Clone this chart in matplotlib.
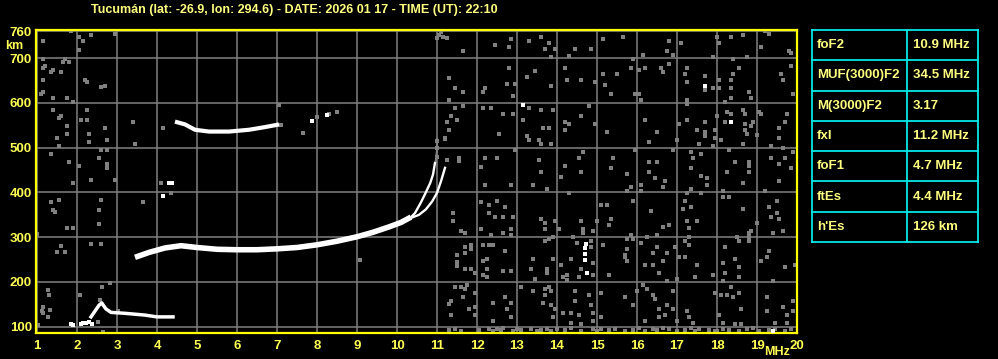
import matplotlib
matplotlib.use("Agg")
import matplotlib.pyplot as plt

# 电离图数据 (频率 MHz, 虚高 km)
f2_freq = [3.45, 3.8, 4.2, 4.6, 5.0, 5.5, 6.0, 6.5, 7.0, 7.5, 8.0, 8.5, 9.0, 9.4, 9.8, 10.1, 10.35]
f2_height = [255, 266, 276, 281, 277, 273, 272, 272, 274, 277, 283, 291, 301, 311, 323, 333, 345]

o_cusp_freq = [10.3, 10.45, 10.6, 10.72, 10.83, 10.9, 10.95]
o_cusp_height = [340, 354, 378, 400, 421, 440, 466]

o_top_freq = [10.97, 11.0, 11.0]
o_top_height = [470, 495, 520]

x_freq = [10.35, 10.55, 10.72, 10.88, 11.0, 11.1, 11.2]
x_height = [343, 350, 362, 380, 399, 425, 455]

upper_freq = [4.5, 4.7, 4.95, 5.3, 5.8, 6.3, 6.7, 7.0]
upper_height = [557, 552, 540, 536, 536, 540, 546, 551]

e_freq = [2.35, 2.45, 2.55, 2.62, 2.72, 2.85, 3.2, 3.7, 4.0, 4.4]
e_height = [122, 135, 148, 153, 140, 132, 130, 126, 122, 122]

white_freq = [1.85, 1.9, 2.1, 2.15, 2.22, 2.3, 2.38, 4.15, 4.3, 4.38, 7.88, 8.25, 13.15,
              17.7, 18.35, 14.7, 14.7, 14.7, 14.72, 14.75, 19.4]
white_height = [106, 104, 106, 108, 109, 110, 107, 392, 420, 420, 560, 573, 595,
                637, 557, 250, 262, 275, 284, 220, 90]

noise_freq = [
    1.85, 2.05, 2.15, 2.35, 2.95, 1.15, 2.05, 1.15, 1.7, 1.65, 1.8, 1.2, 1.15, 1.4, 1.35, 1.6,
    1.15, 2.2, 2.25, 2.6, 2.7, 1.15, 1.1, 1.4, 1.75, 1.9, 1.4, 1.6, 1.55, 2.25, 2.1, 2.25,
    1.75, 2.7, 3.4, 4.15, 1.75, 2.3, 1.5, 2.3, 2.75, 1.55, 3.45, 1.35, 1.8, 2.6, 2.75, 2.55,
    2.05, 2.75, 2.75, 2.35, 2.95, 1.9, 1.35, 1.55, 1.4, 1.45, 2.6, 2.55, 3.65, 2.55, 1.75, 1.9,
    1.0, 1.6, 1.5, 1.7, 2.35, 2.6, 1.28, 1.3, 1.15, 1.15, 1.12, 1.33, 1.28, 1.03, 2.08, 2.62,
    2.83, 2.65, 2.53, 3.03, 2.58, 7.05, 7.1, 7.65, 8.0, 8.3, 8.5, 9.08, 4.35, 4.1,
    11.0, 11.05, 11.1, 11.15, 11.0, 11.0, 11.0, 11.25, 11.3, 11.2,
    11.25, 11.65, 12.45, 12.85, 12.8, 13.3, 13.6, 13.8, 13.7, 13.95, 13.85, 14.3, 14.45, 14.85,
    15.15, 11.3, 11.45, 11.65, 11.3, 12.2, 12.15, 12.8, 12.75, 12.95, 12.9, 13.25, 13.45, 13.85,
    14.2, 14.25, 14.6, 14.95, 15.2, 15.15, 15.35, 11.45, 11.65, 12.15, 12.35, 11.35, 11.5, 11.25,
    12.65, 12.9, 13.3, 13.6, 13.9, 13.15, 13.65, 13.8, 14.2, 14.3, 14.6, 14.8, 14.95, 15.25,
    14.2, 12.55, 11.2, 13.25, 13.3, 13.55, 13.6, 13.85, 12.95, 11.55, 11.55, 12.2, 12.5, 11.25,
    12.1, 13.55, 13.6, 14.55, 14.65, 14.2, 14.6, 15.35, 15.4, 14.1,
    15.65, 16.8, 17.1, 16.75, 16.9, 16.15, 18.0, 18.05, 18.35, 18.65, 19.2, 19.3, 19.1, 19.8,
    19.85, 17.9, 18.4, 18.75, 15.9, 15.85, 16.05, 16.2, 16.6, 16.65, 16.8, 17.25, 17.2, 17.25,
    17.7, 17.7, 17.9, 18.05, 18.05, 18.35, 18.4, 18.55, 18.35, 18.8, 18.85, 18.35, 19.6, 19.65,
    19.85, 19.9, 15.5, 15.95, 16.05, 16.1, 17.25, 17.25, 18.2, 16.2, 17.25, 17.05, 17.7, 18.0,
    18.25, 18.35, 18.2, 18.7, 18.7, 18.85, 18.9, 18.7, 18.65, 19.05, 19.1, 19.75, 19.7, 19.55,
    19.0, 18.75, 17.95, 17.95, 17.5, 17.7, 17.7, 18.1, 16.5, 16.3, 17.0, 17.55, 17.9, 18.65,
    19.55, 19.35, 19.65, 15.95, 16.9, 17.35, 17.6, 17.4, 18.3, 19.9, 19.7, 19.35, 18.8, 18.45,
    18.8, 19.55, 16.3, 16.5, 16.3, 15.75, 16.45, 17.35, 17.6, 17.75, 18.25, 18.8, 19.85,
    12.2, 12.85, 13.4, 13.75, 14.3, 12.1, 12.5, 12.3, 12.7, 11.4, 11.4, 12.3, 12.45, 12.65,
    12.9, 12.1, 12.65, 12.85, 12.85, 11.6, 11.7, 12.35, 13.6, 13.7, 13.7, 13.95, 14.05, 13.8,
    13.7, 13.9, 14.6, 14.65, 14.65, 14.9, 15.0, 15.1, 15.25, 15.35, 15.3, 14.4, 14.5, 14.85,
    15.15, 11.7, 11.85, 11.7, 11.5, 11.85, 12.15, 12.3, 12.4, 12.7, 12.25, 12.15, 12.25, 11.7,
    11.85, 11.5, 11.5, 11.95, 12.15, 12.25, 12.65, 12.85, 13.4, 13.35, 13.75, 13.75, 13.45,
    13.9, 14.1, 14.15, 14.25, 14.25, 14.35, 14.55, 14.9, 14.9, 15.3, 14.85, 14.6,
    11.45, 11.6, 11.75, 11.7, 11.95, 11.35, 11.3, 11.65, 11.8, 11.95, 11.95, 11.35, 12.4, 12.7,
    12.85, 12.75, 12.85, 12.4, 13.1, 13.4, 13.7, 13.8, 13.85, 13.7, 13.65, 13.85, 13.95, 13.9,
    14.15, 14.35, 14.35, 14.55, 14.45, 14.45, 14.8, 14.85, 14.9, 14.9, 15.1, 15.1, 14.6,
    15.85, 16.1, 16.65, 16.7, 15.75, 16.1, 17.35, 17.25, 17.6, 17.75, 18.15, 18.15, 18.3, 18.65,
    19.2, 19.55, 15.9, 16.35, 17.2, 17.15, 17.35, 17.25, 17.5, 17.3, 16.65, 16.8, 18.65, 19.3,
    19.5, 19.5, 19.35, 19.55, 19.0, 18.85, 18.8, 19.4, 19.65, 15.85, 16.25, 16.5, 15.75, 15.9,
    16.1, 17.3, 17.2, 17.3, 18.5, 18.55, 18.8, 18.8, 18.2, 15.75, 15.7, 15.7, 15.75, 16.4, 16.5,
    16.75, 16.95, 17.05, 16.65, 16.4, 16.2, 16.55, 16.75, 17.0, 17.2, 17.5, 17.45, 17.9, 18.15,
    18.2, 18.15, 18.45, 18.55, 18.55, 19.1, 19.25, 19.3, 19.7, 19.95, 19.4, 16.15, 16.25, 16.4,
    15.7, 15.99, 15.9, 16.45, 16.75, 16.9, 16.55, 16.55, 16.7, 16.9, 16.2, 17.0, 17.25, 17.3,
    17.4, 17.95, 18.1, 18.25, 18.35, 18.4, 18.55, 18.6, 18.05, 18.15, 18.45, 18.6, 19.25, 19.25,
    19.65, 19.75, 19.9, 19.9, 19.45, 19.75,
]
noise_height = [
    760, 747, 738, 751, 755, 738, 718, 698, 698, 691, 691, 682, 677, 673, 669, 669,
    651, 651, 646, 635, 637, 624, 620, 611, 611, 602, 584, 570, 566, 584, 562, 562,
    548, 544, 557, 544, 530, 530, 521, 512, 517, 504, 508, 486, 468, 495, 495, 477,
    459, 464, 455, 428, 428, 421, 379, 383, 361, 357, 383, 361, 379, 330, 321, 321,
    307, 281, 267, 267, 285, 285, 183, 171, 131, 145, 136, 138, 122, 104, 171, 189,
    198, 89, 111, 136, 160, 595, 550, 533, 568, 575, 579, 249, 399, 420,
    745, 752, 758, 748, 480, 500, 515, 557, 540, 520,
    744, 715, 729, 742, 724, 738, 747, 733, 720, 720, 702, 704, 720, 720,
    742, 655, 633, 624, 606, 633, 624, 677, 642, 642, 615, 658, 671, 637,
    677, 651, 651, 646, 640, 664, 620, 588, 593, 588, 588, 570, 562, 557,
    575, 575, 588, 584, 584, 562, 544, 544, 557, 553, 570, 593, 553, 535,
    539, 530, 521, 526, 517, 517, 508, 508, 495, 477, 470, 477, 477, 472,
    457, 472, 446, 477, 490, 459, 446, 455, 477, 435,
    747, 738, 733, 715, 706, 706, 747, 733, 747, 751, 760, 755, 724, 715,
    711, 702, 698, 702, 698, 677, 673, 677, 677, 668, 686, 677, 664, 646,
    660, 629, 633, 633, 651, 651, 664, 677, 633, 624, 611, 611, 664, 651,
    682, 620, 664, 620, 620, 606, 606, 597, 602, 562, 562, 553, 557, 570,
    579, 575, 557, 575, 553, 548, 557, 539, 584, 579, 575, 575, 557, 544,
    528, 530, 539, 521, 539, 535, 526, 517, 535, 512, 517, 508, 504, 508,
    521, 504, 499, 495, 495, 490, 486, 477, 495, 490, 477, 477, 468, 468,
    459, 464, 468, 468, 446, 441, 432, 455, 437, 432, 446, 446, 455,
    417, 417, 417, 408, 399, 379, 381, 372, 368, 354, 336, 354, 345, 345,
    345, 319, 310, 319, 305, 314, 310, 305, 341, 332, 319, 336, 319, 296,
    292, 301, 336, 319, 310, 314, 336, 372, 372, 341, 327, 301, 287, 292,
    283, 279, 283, 265, 261, 274, 283, 283, 283, 270, 252, 247, 229, 229,
    229, 236, 245, 220, 216, 211, 225, 225, 252, 229, 229, 220, 207,
    252, 238, 211, 205, 215, 252, 211, 216, 243, 216, 279, 229,
    189, 189, 194, 185, 176, 158, 151, 167, 140, 145, 127, 127, 154, 167,
    154, 140, 122, 113, 189, 180, 185, 189, 180, 171, 154, 149, 140, 122,
    131, 109, 131, 127, 158, 180, 171, 149, 131, 113, 176, 122, 105,
    412, 417, 412, 425, 403, 403, 408, 399, 399, 417, 403, 390, 390, 421,
    403, 425, 381, 359, 381, 363, 368, 336, 336, 321, 323, 327, 363, 368,
    381, 354, 345, 341, 332, 314, 310, 310, 314, 305, 301, 305, 296, 296,
    287, 301, 292, 283, 301, 292, 301, 292, 279, 274, 261, 255, 247, 265, 279,
    265, 279, 256, 247, 238, 238, 220, 202, 207, 256, 238, 211, 216, 243,
    220, 202, 252, 234, 211, 247, 256, 270, 234, 238, 202, 194, 185, 171,
    167, 180, 149, 162, 149, 180, 140, 122, 127, 140, 113, 113, 136, 122,
    109, 176, 171, 171, 189, 167, 176, 140, 127, 109, 105, 105, 167, 136,
    145, 127, 158, 136, 109, 109,
]

# 底部杂波 (约 90-98 km)
clutter_freq = [11.3, 11.45, 11.6, 12.3, 12.4, 12.5, 12.6, 12.65, 12.9, 13.0, 13.1, 13.35, 13.5,
                13.6, 13.85, 14.0, 14.2, 14.35, 14.6, 14.9, 15.0, 15.1, 15.3, 15.45, 15.7, 15.9,
                16.05, 16.2, 16.4, 16.5, 16.8, 17.0, 17.2, 17.35, 17.45, 17.55, 17.8, 18.0, 18.15,
                18.3, 18.55, 18.75, 18.9, 19.05, 19.3, 19.45, 19.7, 19.85, 12.05, 13.75, 16.65, 17.95]
clutter_height = [93, 96, 91, 94, 90, 95, 92, 97, 90, 94, 92, 96, 91, 93, 90, 95, 92, 97, 91, 94,
                  90, 96, 92, 95, 91, 93, 97, 90, 94, 92, 96, 90, 93, 97, 91, 95, 92, 90, 96, 93,
                  91, 94, 97, 90, 93, 96, 91, 94, 92, 95, 98, 91]

y_ticks = [100, 200, 300, 400, 500, 600, 700, 760]
x_ticks = list(range(1, 21))

params = ["foF2", "MUF(3000)F2", "M(3000)F2", "fxI", "foF1", "ftEs", "h'Es"]
values = ["10.9 MHz", "34.5 MHz", "3.17", "11.2 MHz", "4.7 MHz", "4.4 MHz", "126 km"]

title = "Tucumán (lat: -26.9, lon: 294.6) - DATE: 2026 01 17 - TIME (UT): 22:10"

# 样式
plt.rcParams['font.family'] = ['Liberation Sans', 'DejaVu Sans']
plt.rcParams['font.weight'] = 'bold'
YEL = "#ffff55"
PALE = "#ffff80"
CYAN = "#00e8e8"
GRAY = "#808080"

fig = plt.figure(figsize=(9.98, 3.59), dpi=100, facecolor="black")
W, H = 998, 359

ax = fig.add_axes([36 / W, (H - 333) / H, (797 - 36) / W, (333 - 29.5) / H], facecolor="black")
ax.set_xlim(0.975, 20.0)
ax.set_ylim(86, 764)
ax.set_xticks(x_ticks)
ax.set_yticks(y_ticks)
ax.grid(True, color=GRAY, linewidth=1.1)
ax.set_axisbelow(True)
ax.tick_params(length=0, labelcolor=YEL, labelsize=9.5, pad=5)
ax.tick_params(axis="y", pad=3)
for s in ax.spines.values():
    s.set_color("#ffff00")
    s.set_linewidth(1.6)

# 杂波点
ax.scatter(noise_freq, noise_height, s=5, marker="s", color=GRAY, linewidths=0, zorder=2)
ax.scatter(clutter_freq, clutter_height, s=6, marker="s", color=GRAY, linewidths=0, zorder=2)

# 回波描迹
ax.plot(f2_freq, f2_height, color="white", linewidth=4.0, solid_capstyle="butt", zorder=3)
ax.plot(o_cusp_freq, o_cusp_height, color="white", linewidth=1.7, zorder=3)
ax.plot(o_top_freq, o_top_height, color=GRAY, linewidth=1.5, zorder=3)
ax.plot(x_freq, x_height, color="white", linewidth=1.7, zorder=3)
ax.plot(upper_freq, upper_height, color="white", linewidth=3.0, zorder=3)
ax.plot(e_freq, e_height, color="white", linewidth=2.5, zorder=3)
ax.scatter(white_freq, white_height, s=7, marker="s", color="white", linewidths=0, zorder=3)

fig.text(5 / W, 1 - 46 / H, "km", color=YEL, fontsize=9, ha="left", va="center")
fig.text(764 / W, 1 - 352 / H, "MHz", color=YEL, fontsize=9, ha="left", va="center")
fig.text(294 / W, 1 - 10 / H, title, color=PALE, fontsize=9, ha="center", va="center")

# 参数表
tx0, tx1, tx2 = 812, 907, 978
ty0, ty1 = 30, 242
tab = fig.add_axes([0, 0, 1, 1], facecolor="none")
tab.set_xlim(0, W)
tab.set_ylim(H, 0)
tab.axis("off")
n = len(params)
rh = (ty1 - ty0) / n
for i in range(n + 1):
    tab.plot([tx0, tx2], [ty0 + i * rh, ty0 + i * rh], color=CYAN, linewidth=1.3)
tab.plot([tx0, tx0], [ty0, ty1], color=CYAN, linewidth=1.3)
tab.plot([tx1, tx1], [ty0, ty1], color=CYAN, linewidth=1.3)
tab.plot([tx2, tx2], [ty0, ty1], color=CYAN, linewidth=1.3)
for i, (p, v) in enumerate(zip(params, values)):
    yc = ty0 + (i + 0.5) * rh
    tab.text(817, yc, p, color=PALE, fontsize=9.5, ha="left", va="center")
    tab.text(913, yc, v, color=PALE, fontsize=9.5, ha="left", va="center")

fig.savefig("out.png", dpi=100, facecolor="black")
